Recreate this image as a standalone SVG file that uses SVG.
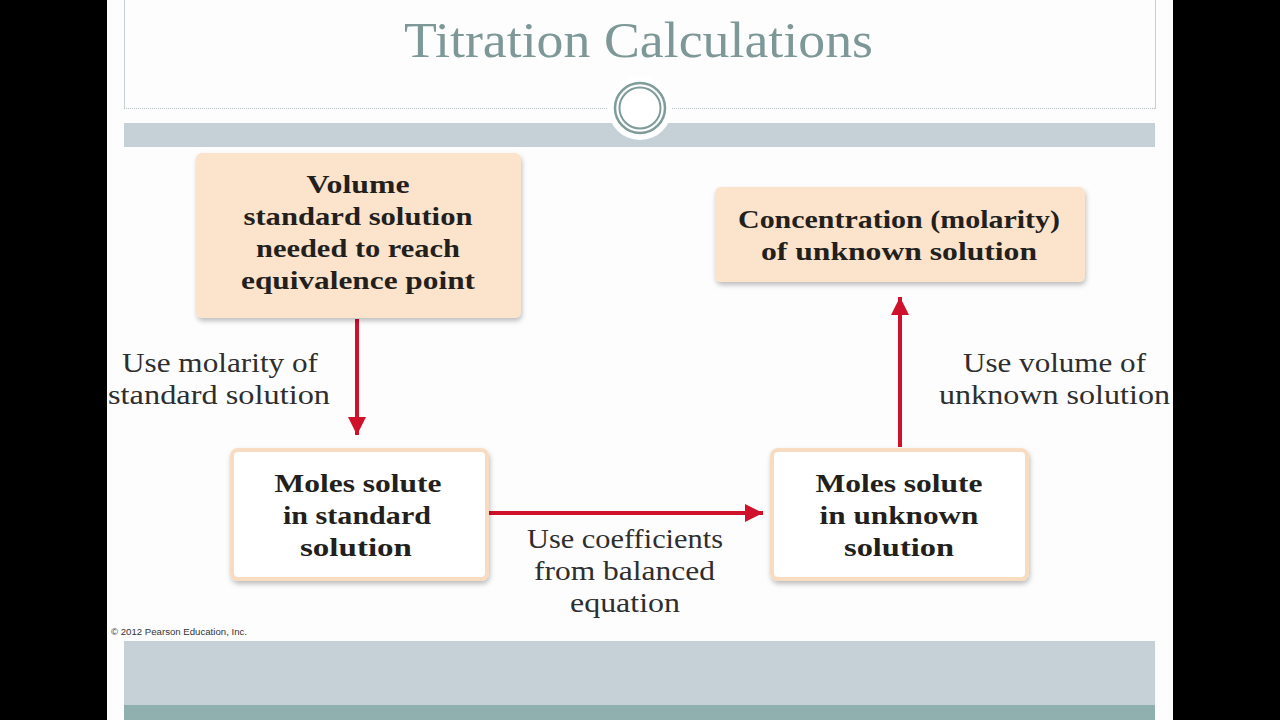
<svg xmlns="http://www.w3.org/2000/svg" width="1280" height="720" viewBox="0 0 1280 720">
<defs>
<style>
.bold{font-family:"Liberation Serif","DejaVu Serif",serif;font-weight:bold;font-size:25px;fill:#231f1c;text-anchor:middle}
.lbl{font-family:"Liberation Serif","DejaVu Serif",serif;font-size:27px;fill:#2e2e2e;text-anchor:middle}
.peach{fill:#fbe3cc;filter:url(#sh)}
.white{fill:#ffffff;stroke:#f8dcc2;stroke-width:4;filter:url(#sh)}
.arrow{stroke:#d0112b;stroke-width:4;fill:none;marker-end:url(#ah)}
</style>
<filter id="sh" x="-10%" y="-10%" width="120%" height="125%">
<feDropShadow dx="1" dy="3" stdDeviation="2.5" flood-color="#000" flood-opacity="0.25"/>
</filter>
<marker id="ah" markerUnits="userSpaceOnUse" markerWidth="20" markerHeight="20" viewBox="0 0 20 20" refX="18" refY="10" orient="auto">
<path d="M0,1 L18,10 L0,19 Z" fill="#d0112b"/>
</marker>
</defs>
<rect x="0" y="0" width="1280" height="720" fill="#000"/>
<rect x="107" y="0" width="1066" height="720" fill="#fdfdfd"/>
<g id="header">
<path d="M124.5,0 V109 M1155.5,0 V109" stroke="#c6d0d3" stroke-width="1" fill="none"/>
<line x1="124" y1="108.5" x2="1155" y2="108.5" stroke="#b9c4c6" stroke-width="1" stroke-dasharray="1,1"/>
<rect x="124" y="123" width="1031" height="24" fill="#c5d1d6"/>
<circle cx="640" cy="108" r="32" fill="#ffffff"/>
<circle cx="640" cy="108" r="25" fill="none" stroke="#7f9c9a" stroke-width="2.5"/>
<circle cx="640" cy="108" r="20.5" fill="none" stroke="#7f9c9a" stroke-width="2"/>
<text x="638.5" y="57" font-family="Liberation Serif, serif" font-size="50" fill="#7e9898" text-anchor="middle" textLength="469" lengthAdjust="spacingAndGlyphs">Titration Calculations</text>
</g>
<g id="footer">
<rect x="124" y="641" width="1031" height="64" fill="#c5d1d6"/>
<rect x="124" y="705" width="1031" height="15" fill="#8fb0ae"/>
<text x="111" y="635" font-family="Liberation Sans, sans-serif" font-size="8.5" fill="#333" textLength="136" lengthAdjust="spacingAndGlyphs">© 2012 Pearson Education, Inc.</text>
</g>
<g id="connectors">
<line class="arrow" x1="357" y1="319" x2="357" y2="435"/>
<line class="arrow" x1="489" y1="513" x2="763" y2="513"/>
<line class="arrow" x1="900" y1="447" x2="900" y2="297"/>
</g>
<g id="node-volume">
<rect class="peach" x="196" y="153" width="325" height="165" rx="6"/>
<text class="bold" x="358" y="193" textLength="103" lengthAdjust="spacingAndGlyphs">Volume</text>
<text class="bold" x="358" y="225" textLength="229" lengthAdjust="spacingAndGlyphs">standard solution</text>
<text class="bold" x="358" y="257" textLength="204" lengthAdjust="spacingAndGlyphs">needed to reach</text>
<text class="bold" x="358" y="289" textLength="234" lengthAdjust="spacingAndGlyphs">equivalence point</text>
</g>
<g id="node-concentration">
<rect class="peach" x="715" y="187" width="370" height="95" rx="6"/>
<text class="bold" x="899" y="228" textLength="322" lengthAdjust="spacingAndGlyphs">Concentration (molarity)</text>
<text class="bold" x="899" y="260" textLength="276" lengthAdjust="spacingAndGlyphs">of unknown solution</text>
</g>
<g id="node-moles-standard">
<rect class="white" x="232" y="450" width="255" height="129" rx="6"/>
<text class="bold" x="358" y="492" textLength="167" lengthAdjust="spacingAndGlyphs">Moles solute</text>
<text class="bold" x="357" y="524" textLength="148" lengthAdjust="spacingAndGlyphs">in standard</text>
<text class="bold" x="356" y="556" textLength="112" lengthAdjust="spacingAndGlyphs">solution</text>
</g>
<g id="node-moles-unknown">
<rect class="white" x="772" y="450" width="255" height="129" rx="6"/>
<text class="bold" x="899" y="492" textLength="167" lengthAdjust="spacingAndGlyphs">Moles solute</text>
<text class="bold" x="899" y="524" textLength="159" lengthAdjust="spacingAndGlyphs">in unknown</text>
<text class="bold" x="899" y="556" textLength="110" lengthAdjust="spacingAndGlyphs">solution</text>
</g>
<g id="labels">
<text class="lbl" x="220" y="372" textLength="196" lengthAdjust="spacingAndGlyphs">Use molarity of</text>
<text class="lbl" x="219" y="404" textLength="222" lengthAdjust="spacingAndGlyphs">standard solution</text>
<text class="lbl" x="625" y="548" textLength="196" lengthAdjust="spacingAndGlyphs">Use coefficients</text>
<text class="lbl" x="624.5" y="580" textLength="181" lengthAdjust="spacingAndGlyphs">from balanced</text>
<text class="lbl" x="625" y="612" textLength="110" lengthAdjust="spacingAndGlyphs">equation</text>
<text class="lbl" x="1054.5" y="372" textLength="183" lengthAdjust="spacingAndGlyphs">Use volume of</text>
<text class="lbl" x="1054.5" y="404" textLength="231" lengthAdjust="spacingAndGlyphs">unknown solution</text>
</g>
</svg>
